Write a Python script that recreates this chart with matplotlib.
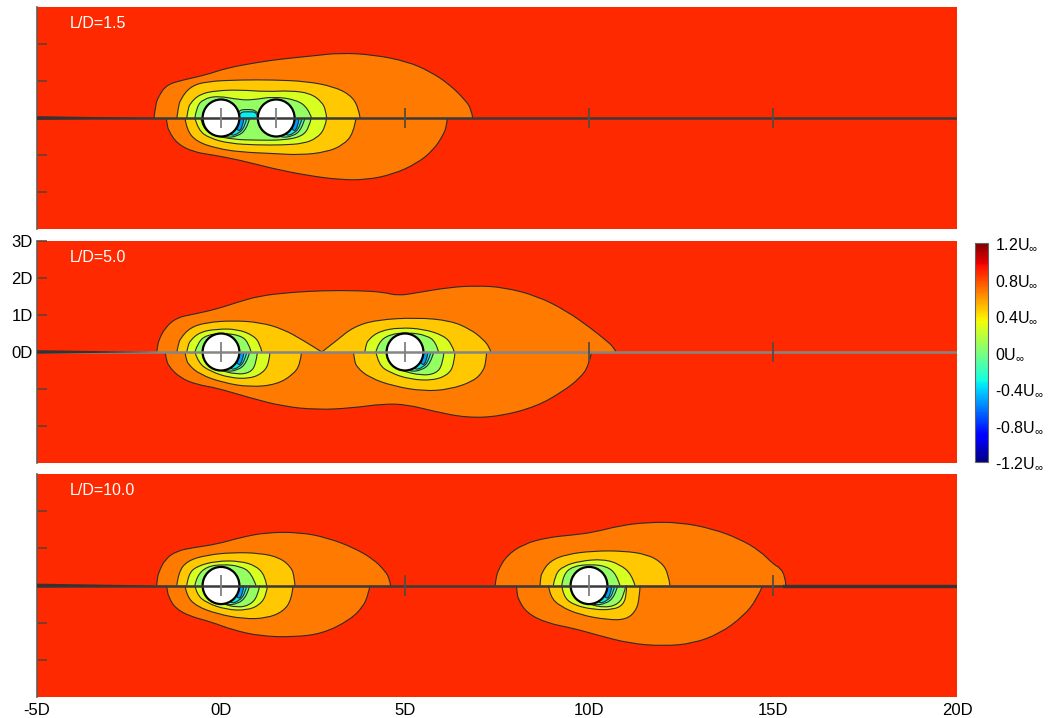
import numpy as np
import matplotlib
matplotlib.use('Agg')
import matplotlib.pyplot as plt
from matplotlib.patches import Circle, PathPatch
from matplotlib.path import Path
from matplotlib.colors import Normalize
from matplotlib.cm import ScalarMappable

plt.rcParams['font.family'] = ['Liberation Sans', 'DejaVu Sans']
plt.rcParams['mathtext.fontset'] = 'custom'
plt.rcParams['mathtext.rm'] = 'Liberation Sans'
plt.rcParams['mathtext.it'] = 'Liberation Sans:italic'
plt.rcParams['axes.unicode_minus'] = False

# ---- data, all lengths in D ----
titles = ['L/D=1.5', 'L/D=5.0', 'L/D=10.0']
cyl_x = [[0.0, 1.5], [0.0, 5.0], [0.0, 10.0]]
probe_x = [[5.0, 10.0, 15.0], [10.0, 15.0], [5.0, 15.0]]
line_colors = ['#3a3a3a', '#858585', '#3a3a3a']

cb_ticks = [-1.2, -0.8, -0.4, 0, 0.4, 0.8, 1.2]
cb_labels = ['-1.2', '-0.8', '-0.4', '0', '0.4', '0.8', '1.2']
x_ticks = [-5, 0, 5, 10, 15, 20]
x_labels = ['-5D', '0D', '5D', '10D', '15D', '20D']

# contour lines: (level, x, y)
# upper half = y > 0, lower half = y < 0
p1_upper = [
    (0.8, [-1.82, -1.78, -1.70, -1.48, -1.02, -0.39, 0.15, 0.97, 1.60, 2.51, 3.23, 4.14, 5.05, 5.68, 6.22, 6.63, 6.80, 6.84],
          [0, 0.35, 0.58, 0.90, 1.03, 1.17, 1.35, 1.50, 1.59, 1.68, 1.76, 1.71, 1.53, 1.26, 0.90, 0.49, 0.25, 0]),
    (0.6, [-1.20, -1.16, -1.11, -0.84, -0.39, 0.52, 1.42, 2.33, 3.05, 3.51, 3.73, 3.78],
          [0, 0.28, 0.49, 0.85, 0.99, 1.03, 1.03, 0.99, 0.85, 0.63, 0.31, 0]),
    (0.4, [-0.93, -0.90, -0.84, -0.57, -0.12, 0.52, 1.24, 1.88, 2.42, 2.74, 2.85, 2.87],
          [0, 0.22, 0.40, 0.65, 0.74, 0.76, 0.71, 0.74, 0.67, 0.44, 0.20, 0]),
    (0.2, [-0.71, -0.66, -0.48, -0.10, 0.52, 0.88, 1.42, 2.06, 2.37, 2.46],
          [0, 0.31, 0.51, 0.60, 0.49, 0.49, 0.58, 0.49, 0.26, 0]),
    (0.0, [0.42, 0.45, 0.70, 1.00, 1.05], [0, 0.20, 0.24, 0.20, 0]),
    (-0.2, [0.48, 0.50, 0.75, 0.98, 1.00], [0, 0.16, 0.17, 0.16, 0]),
]
p1_lower = [
    (0.8, [-1.49, -1.46, -1.43, -1.20, -0.75, -0.21, 0.52, 1.42, 2.33, 3.23, 3.96, 4.68, 5.32, 5.77, 6.04, 6.13, 6.15],
          [0, -0.18, -0.33, -0.69, -0.92, -1.00, -1.14, -1.37, -1.55, -1.67, -1.67, -1.52, -1.23, -0.87, -0.46, -0.22, 0]),
    (0.6, [-0.98, -0.93, -0.66, -0.12, 0.52, 1.42, 2.15, 2.87, 3.32, 3.60, 3.67],
          [0, -0.33, -0.64, -0.82, -0.92, -0.96, -1.00, -0.92, -0.73, -0.42, 0]),
    (0.4, [-0.71, -0.62, -0.30, 0.24, 0.97, 1.69, 2.24, 2.60, 2.83, 2.87],
          [0, -0.33, -0.55, -0.69, -0.73, -0.73, -0.69, -0.55, -0.28, 0]),
    (0.2, [-0.55, -0.50, -0.25, 0.30, 1.00, 1.70, 2.20, 2.40, 2.45],
          [0, -0.25, -0.45, -0.58, -0.60, -0.60, -0.50, -0.25, 0]),
    (0.0, [-0.30, -0.20, 0.10, 0.45, 0.70, 0.78], [0, -0.35, -0.53, -0.50, -0.30, 0]),
    (0.0, [1.20, 1.30, 1.60, 1.95, 2.20, 2.28], [0, -0.35, -0.53, -0.50, -0.30, 0]),
    (-0.2, [0.00, 0.20, 0.50, 0.66, 0.70], [0, -0.50, -0.42, -0.20, 0]),
    (-0.2, [1.50, 1.70, 2.00, 2.16, 2.20], [0, -0.50, -0.42, -0.20, 0]),
    (-0.4, [0.30, 0.45, 0.60, 0.62], [0, -0.42, -0.22, 0]),
    (-0.4, [1.80, 1.95, 2.10, 2.12], [0, -0.42, -0.22, 0]),
]

p2_upper = [
    (0.8, [-1.75, -1.72, -1.70, -1.52, -1.20, -0.75, -0.12, 0.43, 1.06, 1.88, 2.78, 3.69, 4.41, 4.80, 5.32, 6.22, 6.95, 7.67, 8.58, 9.39, 10.03, 10.48, 10.68, 10.73],
          [0, 0.15, 0.30, 0.66, 0.93, 1.02, 1.16, 1.34, 1.52, 1.61, 1.66, 1.66, 1.62, 1.52, 1.60, 1.75, 1.79, 1.75, 1.52, 1.11, 0.66, 0.30, 0.12, 0]),
    (0.6, [-1.20, -1.16, -1.11, -0.84, -0.39, 0.33, 1.06, 1.69, 2.24, 2.74, 2.74, 3.14, 3.60, 4.23, 5.32, 6.22, 6.77, 7.13, 7.30, 7.33],
          [0, 0.20, 0.36, 0.66, 0.80, 0.85, 0.80, 0.62, 0.31, 0.0, 0.0, 0.31, 0.68, 0.87, 0.93, 0.85, 0.62, 0.34, 0.12, 0]),
    (0.4, [-0.93, -0.90, -0.84, -0.57, -0.12, 0.43, 0.88, 1.06, 1.11],
          [0, 0.15, 0.31, 0.54, 0.62, 0.62, 0.45, 0.22, 0]),
    (0.4, [3.91, 3.93, 4.00, 4.32, 4.86, 5.50, 6.04, 6.27, 6.34],
          [0, 0.15, 0.34, 0.57, 0.66, 0.62, 0.45, 0.22, 0]),
    (0.2, [-0.71, -0.62, -0.39, 0.06, 0.52, 0.74, 0.82], [0, 0.27, 0.46, 0.51, 0.45, 0.27, 0]),
    (0.2, [4.21, 4.28, 4.59, 5.09, 5.59, 5.84, 5.91], [0, 0.27, 0.48, 0.53, 0.45, 0.27, 0]),
]
p2_lower = [
    (0.8, [-1.52, -1.49, -1.43, -1.11, -0.66, -0.12, 0.79, 1.69, 2.60, 3.51, 4.41, 5.05, 5.77, 6.68, 7.58, 8.58, 9.30, 9.76, 9.99, 10.07],
          [0, -0.18, -0.38, -0.70, -0.88, -0.97, -1.24, -1.47, -1.56, -1.52, -1.40, -1.42, -1.60, -1.78, -1.74, -1.47, -1.06, -0.70, -0.38, 0]),
    (0.6, [-0.98, -0.95, -0.89, -0.57, 0.06, 0.79, 1.51, 1.96, 2.15, 2.19],
          [0, -0.17, -0.34, -0.61, -0.83, -0.95, -0.88, -0.61, -0.34, 0]),
    (0.6, [3.60, 3.62, 3.69, 4.05, 4.68, 5.50, 6.22, 6.86, 7.13, 7.20, 7.22],
          [0, -0.20, -0.42, -0.70, -0.92, -1.06, -1.01, -0.79, -0.52, -0.25, 0]),
    (0.4, [-0.71, -0.62, -0.30, 0.24, 0.79, 1.15, 1.31, 1.33], [0, -0.29, -0.52, -0.70, -0.72, -0.56, -0.29, 0]),
    (0.4, [4.21, 4.28, 4.59, 5.14, 5.77, 6.18, 6.33, 6.36], [0, -0.34, -0.56, -0.74, -0.77, -0.61, -0.34, 0]),
    (0.2, [-0.52, -0.43, -0.12, 0.43, 0.79, 0.95, 0.99], [0, -0.29, -0.47, -0.61, -0.56, -0.34, 0]),
    (0.2, [4.48, 4.57, 4.88, 5.45, 5.85, 6.02, 6.06], [0, -0.29, -0.50, -0.64, -0.58, -0.34, 0]),
    (0.0, [-0.30, -0.20, 0.10, 0.45, 0.70, 0.78], [0, -0.35, -0.53, -0.50, -0.30, 0]),
    (0.0, [4.70, 4.80, 5.10, 5.45, 5.70, 5.78], [0, -0.35, -0.53, -0.50, -0.30, 0]),
    (-0.2, [0.00, 0.20, 0.50, 0.66, 0.70], [0, -0.50, -0.42, -0.20, 0]),
    (-0.2, [5.00, 5.20, 5.50, 5.66, 5.70], [0, -0.50, -0.42, -0.20, 0]),
    (-0.4, [0.30, 0.45, 0.60, 0.62], [0, -0.42, -0.22, 0]),
    (-0.4, [5.30, 5.45, 5.60, 5.62], [0, -0.42, -0.22, 0]),
]

p3_upper = [
    (0.8, [-1.75, -1.73, -1.70, -1.52, -1.20, -0.75, -0.12, 0.52, 1.24, 2.15, 2.87, 3.60, 4.14, 4.46, 4.58, 4.61],
          [0, 0.17, 0.34, 0.71, 0.93, 1.02, 1.11, 1.29, 1.43, 1.43, 1.29, 1.02, 0.71, 0.39, 0.18, 0]),
    (0.8, [7.45, 7.47, 7.54, 7.76, 8.21, 8.85, 9.57, 10.12, 10.84, 11.57, 12.47, 13.38, 14.10, 14.65, 15.01, 15.19, 15.33, 15.35],
          [0, 0.20, 0.43, 0.80, 1.11, 1.29, 1.36, 1.43, 1.61, 1.70, 1.70, 1.52, 1.25, 0.93, 0.57, 0.48, 0.25, 0]),
    (0.6, [-1.20, -1.16, -0.93, -0.39, 0.33, 1.06, 1.60, 1.92, 1.99, 2.01],
          [0, 0.34, 0.66, 0.82, 0.89, 0.87, 0.75, 0.48, 0.22, 0]),
    (0.6, [8.67, 8.68, 8.71, 8.94, 9.39, 10.12, 10.93, 11.57, 11.98, 12.16, 12.20],
          [0, 0.15, 0.34, 0.66, 0.84, 0.93, 0.93, 0.84, 0.62, 0.30, 0]),
    (0.4, [-0.93, -0.89, -0.66, -0.12, 0.52, 0.97, 1.20, 1.24], [0, 0.30, 0.52, 0.66, 0.66, 0.52, 0.25, 0]),
    (0.4, [9.03, 9.08, 9.30, 9.76, 10.39, 10.84, 11.16, 11.25], [0, 0.30, 0.52, 0.66, 0.71, 0.57, 0.30, 0]),
    (0.2, [-0.71, -0.66, -0.39, 0.06, 0.52, 0.83, 0.95], [0, 0.25, 0.51, 0.57, 0.52, 0.34, 0]),
    (0.2, [9.26, 9.30, 9.57, 10.03, 10.48, 10.75, 10.84], [0, 0.30, 0.52, 0.57, 0.52, 0.30, 0]),
]
p3_lower = [
    (0.8, [-1.48, -1.46, -1.43, -1.25, -0.84, -0.30, 0.33, 1.06, 1.96, 2.78, 3.51, 3.87, 4.00, 4.05],
          [0, -0.12, -0.29, -0.61, -0.83, -0.97, -1.20, -1.36, -1.39, -1.29, -0.92, -0.56, -0.24, 0]),
    (0.8, [8.03, 8.04, 8.08, 8.31, 8.85, 9.57, 10.21, 11.11, 12.02, 12.83, 13.56, 14.19, 14.56, 14.72],
          [0, -0.18, -0.38, -0.74, -1.01, -1.15, -1.33, -1.56, -1.63, -1.56, -1.29, -0.83, -0.38, 0]),
    (0.6, [-0.98, -0.93, -0.66, -0.12, 0.61, 1.24, 1.69, 1.92, 1.96], [0, -0.29, -0.56, -0.76, -0.90, -0.88, -0.70, -0.38, 0]),
    (0.6, [8.90, 8.94, 9.21, 9.76, 10.48, 11.02, 11.30, 11.37, 11.39], [0, -0.29, -0.56, -0.79, -0.92, -0.92, -0.65, -0.29, 0]),
    (0.4, [-0.71, -0.66, -0.39, 0.15, 0.70, 1.06, 1.24, 1.26], [0, -0.24, -0.47, -0.65, -0.67, -0.52, -0.24, 0]),
    (0.4, [9.26, 9.30, 9.57, 10.12, 10.66, 10.93, 11.02, 11.02], [0, -0.29, -0.52, -0.65, -0.65, -0.52, -0.24, 0]),
    (0.2, [-0.50, -0.40, 0.00, 0.45, 0.80, 1.00, 1.05], [0, -0.28, -0.48, -0.60, -0.52, -0.28, 0]),
    (0.2, [9.50, 9.55, 9.95, 10.45, 10.80, 10.95, 11.00], [0, -0.28, -0.50, -0.60, -0.50, -0.25, 0]),
    (0.0, [-0.30, -0.20, 0.10, 0.45, 0.70, 0.78], [0, -0.35, -0.53, -0.50, -0.30, 0]),
    (0.0, [9.70, 9.80, 10.10, 10.45, 10.70, 10.78], [0, -0.35, -0.53, -0.50, -0.30, 0]),
    (-0.2, [0.00, 0.20, 0.50, 0.66, 0.70], [0, -0.50, -0.42, -0.20, 0]),
    (-0.2, [10.00, 10.20, 10.50, 10.66, 10.70], [0, -0.50, -0.42, -0.20, 0]),
    (-0.4, [0.30, 0.45, 0.60, 0.62], [0, -0.42, -0.22, 0]),
    (-0.4, [10.30, 10.45, 10.60, 10.62], [0, -0.42, -0.22, 0]),
]

panels = [(p1_upper, p1_lower), (p2_upper, p2_lower), (p3_upper, p3_lower)]
# wake lines running to the domain edges
wake_right = [None, None, 15.3]

cmap = plt.get_cmap('jet')
norm = Normalize(-1.2, 1.2)


def smooth_path(xs, ys):
    # quadratic bezier through the mid points, ends kept on the axis
    pts = np.column_stack([xs, ys])
    verts = [pts[0]]
    codes = [Path.MOVETO]
    for k in range(1, len(pts) - 1):
        end = pts[k + 1] if k == len(pts) - 2 else (pts[k] + pts[k + 1]) / 2
        verts += [pts[k], end]
        codes += [Path.CURVE3, Path.CURVE3]
    if len(pts) == 2:
        verts.append(pts[1])
        codes.append(Path.LINETO)
    return Path(verts, codes)


W, H = 1051, 718
fig = plt.figure(figsize=(W / 100, H / 100), dpi=100)
boxes = [(7, 229), (241, 463), (474, 697)]

for i, (up, lo) in enumerate(panels):
    top, bot = boxes[i]
    ax = fig.add_axes([37 / W, 1 - bot / H, 920 / W, (bot - top) / H])
    ax.set_xlim(-5, 20)
    ax.set_ylim(-3, 3)
    ax.set_facecolor(cmap(norm(0.88)))

    shapes = sorted(up + lo, key=lambda s: -s[0])
    for lev, xs, ys in shapes:
        ax.add_patch(PathPatch(smooth_path(xs, ys), fc=cmap(norm(lev - 0.13)), lw=0, zorder=1))
    for lev, xs, ys in shapes:
        ax.add_patch(PathPatch(smooth_path(xs, ys), fc='none', ec='#2b2b2b', lw=0.8, zorder=2))

    for c in cyl_x[i]:
        ax.add_patch(Circle((c, 0), 0.5, fc='white', ec='black', lw=1.6, zorder=3))

    ax.axhline(0, color=line_colors[i], lw=1.8, zorder=4)
    ax.fill([-5, -1.7, -5], [0.05, 0, -0.05], color='#3a3030', lw=0, zorder=4)
    if wake_right[i] is not None:
        ax.plot([wake_right[i], 20], [0, 0], color='#333333', lw=2.4, zorder=4)

    ax.vlines(cyl_x[i], -0.27, 0.27, color='#808080', lw=1.3, zorder=5)
    ax.vlines(probe_x[i], -0.27, 0.27, color='#5a4a40', lw=1.3, zorder=5)

    ax.text(-4.1, 2.55, titles[i], color='white', fontsize=11.5, va='center', ha='left', zorder=6)

    for s in ['top', 'right', 'bottom']:
        ax.spines[s].set_visible(False)
    ax.spines['left'].set_color('#6b5a50')
    ax.spines['left'].set_linewidth(1.2)

    if i == 1:
        ax.set_yticks([-2, -1, 0, 1, 2, 3])
        ax.set_yticklabels(['', '', '0D', '1D', '2D', '3D'])
    else:
        ax.set_yticks([-2, -1, 1, 2])
        ax.set_yticklabels([])
    ax.tick_params(axis='y', direction='in', length=7, width=1.1, color='#5a4035',
                   labelsize=12, pad=3)

    if i == 2:
        ax.set_xticks(x_ticks)
        ax.set_xticklabels(x_labels)
        ax.tick_params(axis='x', length=0, labelsize=12, pad=4)
    else:
        ax.set_xticks([])

# colour bar
cax = fig.add_axes([975 / W, 1 - 462 / H, 13 / W, 219 / H])
cb = fig.colorbar(ScalarMappable(norm=norm, cmap=cmap), cax=cax, ticks=cb_ticks)
cb.ax.set_yticklabels([t + r'U$_{\infty}$' for t in cb_labels])
cb.ax.tick_params(length=0, labelsize=11.5, pad=5)
cb.outline.set_edgecolor('#666666')
cb.outline.set_linewidth(0.8)

fig.savefig('out.png', dpi=100)
